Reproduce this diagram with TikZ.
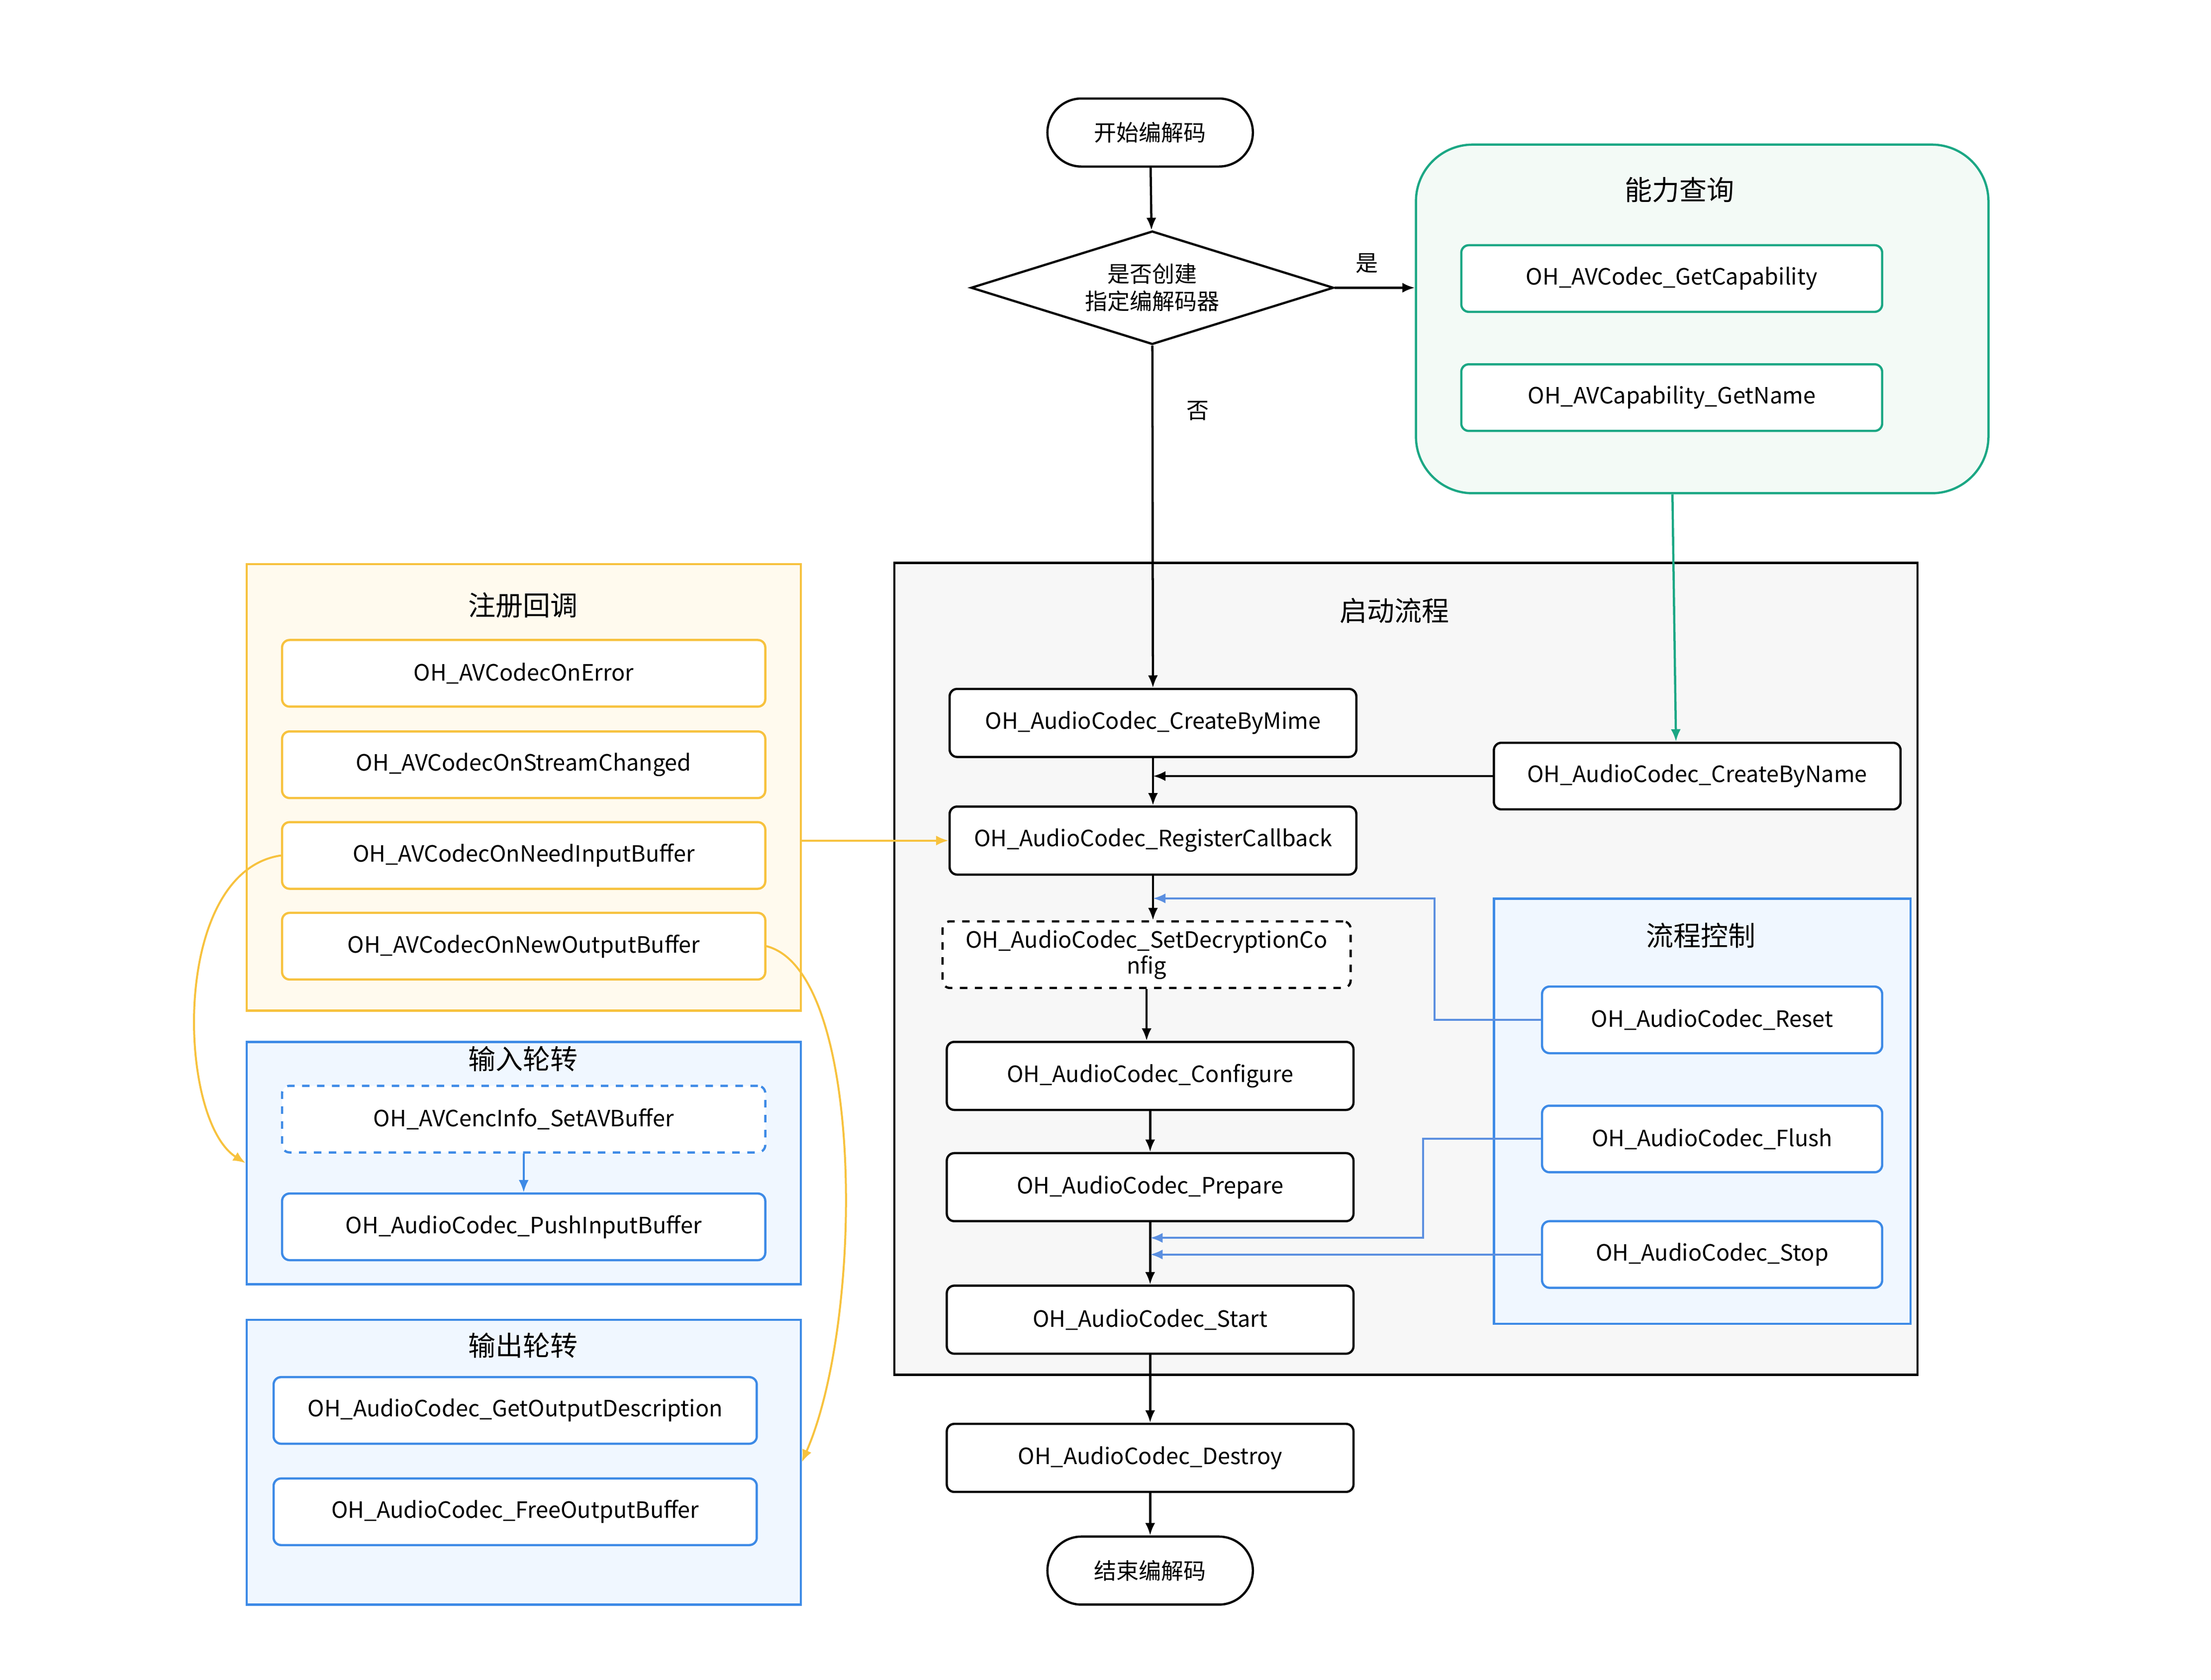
\documentclass[tikz,border=0pt]{standalone}
\usepackage{fontspec}
\setmainfont{Noto Sans CJK SC}
\usetikzlibrary{arrows.meta, shapes.geometric, positioning}

\definecolor{capgreen}{HTML}{1BA784}
\definecolor{capfill}{HTML}{F3FAF6}
\definecolor{ctlblue}{HTML}{3D8AE6}
\definecolor{ctlfill}{HTML}{F0F7FF}
\definecolor{arrblue}{HTML}{5B8FE0}
\definecolor{cbyellow}{HTML}{F7C23E}
\definecolor{cbfill}{HTML}{FFFAEE}
\definecolor{grayfill}{HTML}{F7F7F7}

\begin{document}
\begin{tikzpicture}[x=0.02cm,y=-0.02cm,>={Latex[length=5pt,width=4pt]},
  font=\fontsize{9}{11}\selectfont,
  func node/.style={draw,line width=0.9pt,rounded corners=3pt,fill=white,minimum width=5.74cm,minimum height=0.96cm,inner sep=1pt},
  term node/.style={draw,line width=0.9pt,rounded corners=0.48cm,minimum width=2.9cm,minimum height=0.96cm},
  item node/.style={draw,line width=0.9pt,rounded corners=3pt,fill=white,minimum height=0.94cm},
  frame/.style={draw,line width=0.9pt,inner sep=0pt},
  title/.style={font=\fontsize{11}{13}\selectfont}]

  \useasboundingbox (0,0) rectangle (1560,1185);

  % frames
  \node[frame,draw=capgreen,fill=capfill,rounded corners=0.8cm,minimum width=8.08cm,minimum height=4.92cm] (cap) at (1201,225) {};
  \node[frame,fill=grayfill,minimum width=14.44cm,minimum height=11.46cm] (flow) at (992,683.5) {};
  \node[frame,draw=ctlblue,fill=ctlfill,minimum width=5.88cm,minimum height=6.0cm] (ctl) at (1201,784) {};
  \node[frame,draw=cbyellow,fill=cbfill,minimum width=7.82cm,minimum height=6.3cm] (reg) at (369.5,555.5) {};
  \node[frame,draw=ctlblue,fill=ctlfill,minimum width=7.82cm,minimum height=3.42cm] (in) at (369.5,820.5) {};
  \node[frame,draw=ctlblue,fill=ctlfill,minimum width=7.82cm,minimum height=4.02cm] (out) at (369.5,1031.5) {};

  % titles
  \node[title] at (1185,134) {能力查询};
  \node[title] at (984,431) {启动流程};
  \node[title] at (1200,660) {流程控制};
  \node[title] at (369,427) {注册回调};
  \node[title] at (369,747) {输入轮转};
  \node[title] at (369,949) {输出轮转};

  % main flow
  \node[term node] (start) at (811.5,93.5) {开始编解码};
  \node[draw,line width=0.9pt,diamond,aspect=3.2,inner sep=0pt,minimum width=5.12cm,minimum height=1.6cm,align=center] (dec) at (813,203) {是否创建\\指定编解码器};
  \node[func node] (mime) at (813.5,510) {OH\_AudioCodec\_CreateByMime};
  \node[func node,minimum height=0.94cm] (byname) at (1197.5,547.5) {OH\_AudioCodec\_CreateByName};
  \node[func node] (regcb) at (813.5,593) {OH\_AudioCodec\_RegisterCallback};
  \node[func node,dashed,minimum width=5.76cm,minimum height=0.94cm,align=center,font=\fontsize{9}{10.5}\selectfont] (decrypt) at (809,673.5) {OH\_AudioCodec\_SetDecryptionCo\\nfig};
  \node[func node] (conf) at (811.5,759) {OH\_AudioCodec\_Configure};
  \node[func node] (prep) at (811.5,837.5) {OH\_AudioCodec\_Prepare};
  \node[func node] (startc) at (811.5,931) {OH\_AudioCodec\_Start};
  \node[func node] (destroy) at (811.5,1028.5) {OH\_AudioCodec\_Destroy};
  \node[term node] (end) at (811.5,1108) {结束编解码};

  % capability
  \node[item node,draw=capgreen,minimum width=5.94cm] (getcap) at (1179.5,196.5) {OH\_AVCodec\_GetCapability};
  \node[item node,draw=capgreen,minimum width=5.94cm] (getname) at (1179.5,280.5) {OH\_AVCapability\_GetName};

  % control
  \node[item node,draw=ctlblue,minimum width=4.8cm] (reset) at (1208,719.5) {OH\_AudioCodec\_Reset};
  \node[item node,draw=ctlblue,minimum width=4.8cm] (flush) at (1208,803.5) {OH\_AudioCodec\_Flush};
  \node[item node,draw=ctlblue,minimum width=4.8cm] (stop) at (1208,885) {OH\_AudioCodec\_Stop};

  % callbacks
  \node[item node,draw=cbyellow,minimum width=6.82cm] (onerr) at (369.5,475) {OH\_AVCodecOnError};
  \node[item node,draw=cbyellow,minimum width=6.82cm] (onstream) at (369.5,539.5) {OH\_AVCodecOnStreamChanged};
  \node[item node,draw=cbyellow,minimum width=6.82cm] (onneed) at (369.5,603.5) {OH\_AVCodecOnNeedInputBuffer};
  \node[item node,draw=cbyellow,minimum width=6.82cm] (onnew) at (369.5,667.5) {OH\_AVCodecOnNewOutputBuffer};

  % buffers
  \node[item node,draw=ctlblue,dashed,minimum width=6.82cm] (setav) at (369.5,789.5) {OH\_AVCencInfo\_SetAVBuffer};
  \node[item node,draw=ctlblue,minimum width=6.82cm] (push) at (369.5,865.5) {OH\_AudioCodec\_PushInputBuffer};
  \node[item node,draw=ctlblue,minimum width=6.82cm] (getdesc) at (363.5,995) {OH\_AudioCodec\_GetOutputDescription};
  \node[item node,draw=ctlblue,minimum width=6.82cm] (freeout) at (363.5,1066.5) {OH\_AudioCodec\_FreeOutputBuffer};

  % connectors
  \begin{scope}[line width=0.9pt]
    \draw[->] (start) -- (dec);
    \draw[->] (dec.east) -- (dec.east -| cap.west) node[pos=0.4,above=2pt] {是};
    \draw[->] (dec) -- (mime) node[pos=0.19,right=10pt] {否};
    \draw[->] (mime) -- (regcb);
    \draw[->] (byname.west) -- (byname.west -| mime.south);
    \draw[->] (regcb) -- (decrypt.north -| regcb.south);
    \draw[->] (decrypt.south) -- (decrypt.south |- conf.north);
    \draw[->] (conf) -- (prep);
    \draw[->] (prep) -- (startc);
    \draw[->] (startc) -- (destroy);
    \draw[->] (destroy) -- (end);
  \end{scope}
  \draw[->,capgreen,line width=0.9pt] ([xshift=-0.42cm]cap.south) -- ([xshift=-0.3cm]byname.north);
  \begin{scope}[arrblue,line width=0.8pt]
    \draw[->] (reset.west) -- ++(-75,0) |- ([yshift=-0.32cm]regcb.south);
    \draw[->] (flush.west) -- ++(-83,0) |- ([yshift=-0.22cm]prep.south);
    \draw[->] (stop.west) -- (stop.west -| prep.south);
    \draw[->,ctlblue] (setav) -- (push);
  \end{scope}
  \begin{scope}[cbyellow,line width=0.8pt]
    \draw[->] (reg.east |- regcb) -- (regcb.west);
    \draw[->] (onneed.west) .. controls (120,615) and (125,790) .. (in.west);
    \draw[->] (onnew.east) .. controls (610,685) and (610,930) .. (out.east);
  \end{scope}

\end{tikzpicture}
\end{document}
